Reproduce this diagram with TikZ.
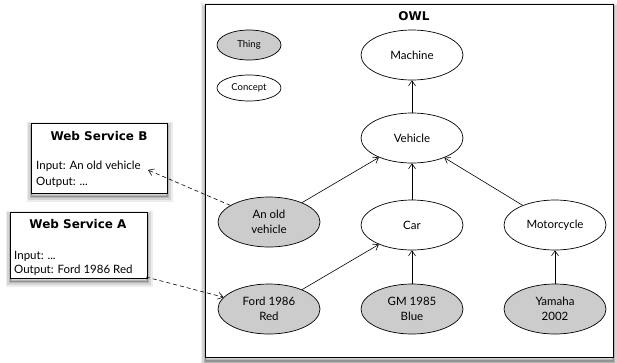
\documentclass[tikz,border=0pt]{standalone}
\usepackage{fontspec}
\setmainfont{Lato}
\newfontfamily\headfont{DejaVu Sans}
\usetikzlibrary{shapes.geometric,arrows.meta}

\definecolor{instfill}{gray}{0.8}

\tikzset{
  concept/.style={ellipse, draw, line width=0.7pt, fill=white,
    minimum width=102pt, minimum height=50pt, inner sep=0pt,
    align=center, font=\fontsize{11.5}{15}\selectfont},
  instance/.style={concept, fill=instfill},
  legend/.style={ellipse, draw, line width=0.7pt, inner sep=0pt,
    minimum width=64pt, font=\fontsize{9.5}{11}\selectfont},
  isa/.style={-{Straight Barb[length=5pt,width=7pt]}, line width=0.6pt},
  uses/.style={isa, dashed, dash pattern=on 4pt off 3pt},
  % soft shadow: stacked translucent halos, shifted downwards
  halo/.style={
    preaction={draw=black, draw opacity=0.07, line width=10pt, transform canvas={yshift=-#1}},
    preaction={draw=black, draw opacity=0.10, line width=6.5pt, transform canvas={yshift=-#1}},
    preaction={draw=black, draw opacity=0.14, line width=3.5pt, transform canvas={yshift=-#1}},
    preaction={draw=black, draw opacity=0.20, line width=1.5pt, transform canvas={yshift=-#1}}},
  card/.style={draw, line width=1pt, fill=white, inner sep=0pt, anchor=north west},
  cardtitle/.style={font=\headfont\bfseries\fontsize{12}{14}\selectfont, inner sep=0pt},
  cardline/.style={font=\fontsize{11.5}{13}\selectfont, inner sep=0pt, anchor=base west},
}

\begin{document}
\begin{tikzpicture}[x=1pt, y=-1pt]
\useasboundingbox (0,0) rectangle (617,362);

% ontology frame
\node[card, halo=3.5pt, line width=1.2pt, minimum width=408pt, minimum height=353pt]
  (owlbox) at (205,4) {};
\node[cardtitle] (owl) at (414,16) {OWL};

% legend
\node[legend, fill=instfill, minimum height=30pt] (thing) at (249,45) {Thing};
\node[legend, fill=white, minimum height=26pt] (concept) at (249,88) {Concept};

% class hierarchy
\node[concept] (machine) at (412,55) {Machine};
\node[concept] (vehicle) at (412,138) {Vehicle};
\node[instance] (old) at (269,222) {An old\\vehicle};
\node[concept] (car) at (412,225) {Car};
\node[concept] (moto) at (555,225) {Motorcycle};
\node[instance] (ford) at (269,309) {Ford 1986\\Red};
\node[instance] (gm) at (412,309) {GM 1985\\Blue};
\node[instance] (yamaha) at (555,309) {Yamaha\\2002};

\draw[isa] (vehicle) -- (machine);
\draw[isa] (old) -- (vehicle);
\draw[isa] (car) -- (vehicle);
\draw[isa] (moto) -- (vehicle);
\draw[isa] (ford) -- (car);
\draw[isa] (gm) -- (car);
\draw[isa] (yamaha) -- (moto);

% web service B
\node[card, halo=3pt, minimum width=136pt, minimum height=70pt] (wsb) at (31,123) {};
\node[cardtitle] (wsbtitle) at (99,136) {Web Service B};
\node[cardline] (wsbin) at (36,169) {Input: An old vehicle};
\node[cardline] (wsbout) at (36,185) {Output: ...};
\coordinate (wsbport) at (148,170);

% web service A
\node[card, halo=3pt, minimum width=137pt, minimum height=66pt] (wsa) at (10,212) {};
\node[cardtitle] (wsatitle) at (78,224) {Web Service A};
\node[cardline] (wsain) at (14,259) {Input: ...};
\node[cardline] (wsaout) at (14,273) {Output: Ford 1986 Red};
\coordinate (wsaport) at (146,277);

\draw[uses] (old) -- (wsbport);
\draw[uses] (wsaport) -- (ford);
\end{tikzpicture}
\end{document}
